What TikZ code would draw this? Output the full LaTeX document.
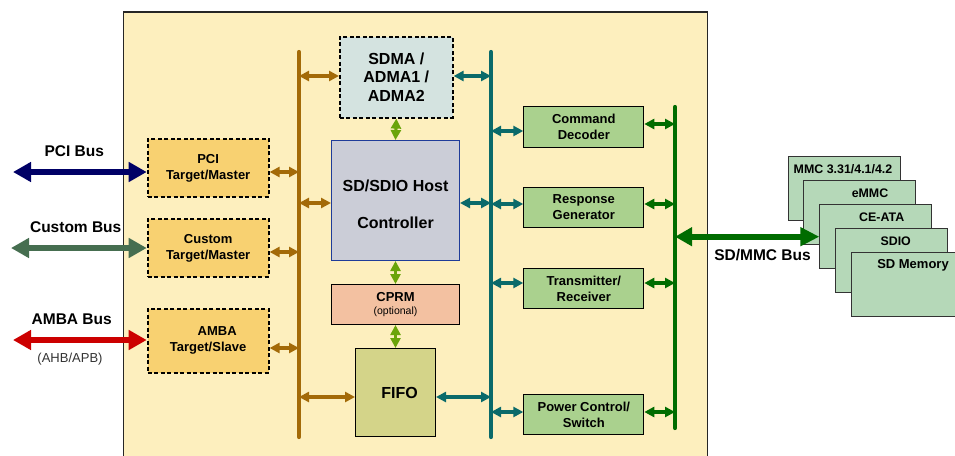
\documentclass[tikz,border=0pt]{standalone}
\usepackage{fontspec}
\setmainfont{Liberation Sans}
\usetikzlibrary{arrows.meta}
\definecolor{bgc}{HTML}{FDEFBE}
\definecolor{ifc}{HTML}{F8D171}
\definecolor{sdmac}{HTML}{D4E3E0}
\definecolor{hostc}{HTML}{CBCDD7}
\definecolor{hostb}{HTML}{1F3C99}
\definecolor{cprmc}{HTML}{F3C1A1}
\definecolor{fifoc}{HTML}{D4D489}
\definecolor{blkc}{HTML}{AAD18E}
\definecolor{cardc}{HTML}{B5D8B8}
\definecolor{brownc}{HTML}{A36A08}
\definecolor{tealc}{HTML}{0A6A6A}
\definecolor{dgreenc}{HTML}{006C00}
\definecolor{lgreenc}{HTML}{6AA40A}
\definecolor{navyc}{HTML}{000066}
\definecolor{custc}{HTML}{466E50}
\definecolor{redc}{HTML}{CC0000}
\begin{document}
\begin{tikzpicture}[x=1pt,y=-1pt,
  box/.style={draw=black, line width=1pt, inner sep=0pt, anchor=north west, align=center,
    font=\bfseries\fontsize{13}{15.5}\selectfont},
  dbox/.style={box, line width=1.9pt, dash pattern=on 4pt off 2.5pt, fill=ifc,
    font=\bfseries\fontsize{13}{16}\selectfont},
  blk/.style={box, fill=blkc, minimum width=120pt, minimum height=40pt},
  card/.style={draw=black!80, line width=1pt, fill=cardc, anchor=north west,
    minimum width=112pt, minimum height=64pt, inner sep=0pt},
  cardt/.style={font=\bfseries\fontsize{12.4}{14}\selectfont},
  lbl/.style={font=\bfseries\fontsize{15.5}{18}\selectfont},
  bus/.style={line width=4.2pt, line cap=round},
  itip/.style={{Triangle[length=10pt,width=10pt]}-{Triangle[length=10pt,width=10pt]}},
  etip/.style={{Triangle[length=18pt,width=19pt]}-{Triangle[length=18pt,width=19pt]}},
  barrow/.style={draw=brownc, line width=3.2pt, itip},
  tarrow/.style={draw=tealc, line width=3.2pt, itip},
  garrow/.style={draw=dgreenc, line width=3.2pt, itip},
  larrow/.style={draw=lgreenc, line width=3.2pt, itip},
  earrow/.style={line width=6pt, etip}
]
\clip (0,0) rectangle (955,455);
\fill[white] (0,0) rectangle (955,455);
% background
\draw[fill=bgc, draw=black!85, line width=1.3pt] (123.3,12) rectangle (707.3,470);

% interface boxes
\node[dbox, minimum width=121pt, minimum height=58pt] (pci) at (146.7,138) {PCI\\Target/Master};
\node[dbox, minimum width=121pt, minimum height=58pt] (custom) at (146.7,218) {Custom\\Target/Master};
\node[dbox, minimum width=121pt, minimum height=64pt] (amba) at (146.7,307.7) {\hspace*{18pt}AMBA\\Target/Slave};

% central blocks
\node[box, dash pattern=on 4pt off 2.5pt, line width=1.9pt, fill=sdmac, minimum width=112.7pt, minimum height=81pt,
  font=\bfseries\fontsize{16}{18.3}\selectfont] (sdma) at (339,35.7) {SDMA /\\ADMA1 /\\ADMA2};
\node[box, draw=hostb, line width=1pt, fill=hostc, minimum width=128pt, minimum height=120pt,
  label={[yshift=-3.5pt, align=center, font=\bfseries\fontsize{16}{37}\selectfont]center:SD/SDIO Host\\Controller}] (host) at (331,140) {};
\node[box, fill=cprmc, minimum width=128pt, minimum height=40pt] (cprm) at (331,284)
  {CPRM\\[-3pt]{\mdseries\fontsize{10.5}{12}\selectfont(optional)}};
\node[box, fill=fifoc, minimum width=80pt, minimum height=88pt,
  font=\bfseries\fontsize{16}{18}\selectfont] (fifo) at (355,348) {\raisebox{-8pt}{\hspace*{8pt}FIFO}};

% right blocks
\node[blk, minimum height=40.7pt] (cmd) at (523.3,106) {Command\\Decoder};
\node[blk] (resp) at (523.3,186.7) {Response\\Generator};
\node[blk] (trx) at (523.3,268.3) {Transmitter/\\Receiver};
\node[blk] (pwr) at (523.3,394.3) {Power Control/\\Switch};

% buses
\coordinate (bt) at (299,52); \coordinate (bb) at (299,437);
\coordinate (tt) at (491,52); \coordinate (tb) at (491,437);
\coordinate (gt) at (675,107); \coordinate (gb) at (675,428);
\draw[bus, brownc] (bt) -- (bb);
\draw[bus, tealc] (tt) -- (tb);
\draw[bus, dgreenc] (gt) -- (gb);

% brown arrows
\draw[barrow] (pci.east |- 0,172) -- (bt |- 0,172);
\draw[barrow] (custom.east |- 0,252) -- (bt |- 0,252);
\draw[barrow] (amba.east |- 0,348) -- (bt |- 0,348);
\draw[barrow] (bt |- 0,76) -- (sdma.west |- 0,76);
\draw[barrow] (bt |- 0,203) -- (host.west |- 0,203);
\draw[barrow] (bt |- 0,397) -- (fifo.west |- 0,397);

% teal arrows
\draw[tarrow] (sdma.east |- 0,76) -- (tt |- 0,76);
\draw[tarrow] (host.east |- 0,203) -- (tt |- 0,203);
\draw[tarrow] (fifo.east |- 0,397) -- (tt |- 0,397);
\draw[tarrow] (tt |- 0,131) -- (cmd.west |- 0,131);
\draw[tarrow] (tt |- 0,204) -- (resp.west |- 0,204);
\draw[tarrow] (tt |- 0,283) -- (trx.west |- 0,283);
\draw[tarrow] (tt |- 0,412) -- (pwr.west |- 0,412);

% green arrows
\draw[garrow] (cmd.east |- 0,124) -- (gt |- 0,124);
\draw[garrow] (resp.east |- 0,204) -- (gt |- 0,204);
\draw[garrow] (trx.east |- 0,283) -- (gt |- 0,283);
\draw[garrow] (pwr.east |- 0,412) -- (gt |- 0,412);

% light green arrows
\draw[larrow] (sdma.south) -- (host.north);
\draw[larrow] (host.south) -- (cprm.north);
\draw[larrow] (cprm.south) -- (fifo.north);

% external buses
\coordinate (pciext) at (13,172);
\coordinate (custext) at (11,248);
\coordinate (ambaext) at (13,340);
\draw[earrow, navyc] (pciext) -- (pci.west |- pciext);
\draw[earrow, custc] (custext) -- (custom.west |- custext);
\draw[earrow, redc] (ambaext) -- (amba.west |- ambaext);
\node[lbl] (pcil) at (74.3,150.7) {PCI Bus};
\node[lbl] (custl) at (75.7,227) {Custom Bus};
\node[lbl] (ambal) at (71.7,319) {AMBA Bus};
\node[font=\fontsize{13}{15}\selectfont, text=black!80] (ahb) at (70,359) {(AHB/APB)};

% cards
\node[card] (mmc) at (787.7,155.7) {};
\node[cardt] (mmct) at (843,169.3) {MMC 3.31/4.1/4.2};
\node[card] (emmc) at (803.3,180) {};
\node[cardt] (emmct) at (870,193.3) {eMMC};
\node[card] (ceata) at (819.3,204) {};
\node[cardt] (ceatat) at (881.7,217.3) {CE-ATA};
\node[card] (sdio) at (835.3,227.7) {};
\node[cardt] (sdiot) at (895.7,241) {SDIO};
\node[card] (sdmem) at (851.3,251.7) {};
\node[cardt, font=\bfseries\fontsize{13}{15}\selectfont] (sdmemt) at (913,265.7) {SD Memory};

\draw[earrow, dgreenc, {Triangle[length=17pt,width=18pt]}-{Triangle[length=19pt,width=18pt]}] (gt |- 0,236.7) -- (ceata.west |- 0,236.7);
\node[lbl] (sdl) at (762.5,255) {SD/MMC Bus};
\end{tikzpicture}
\end{document}
